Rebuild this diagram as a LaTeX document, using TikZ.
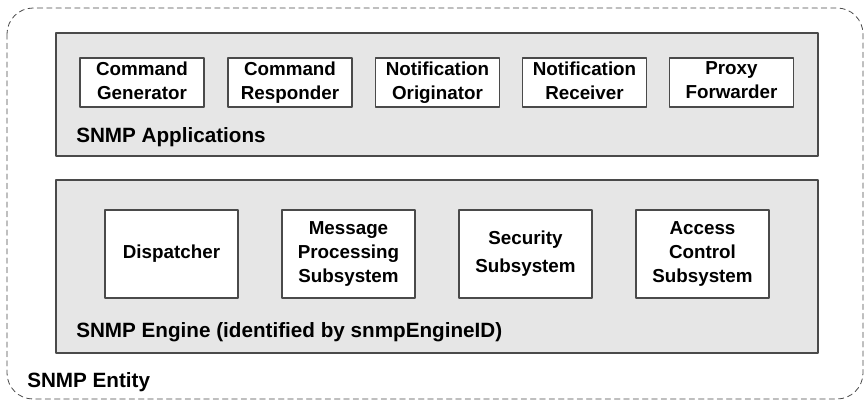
\documentclass[tikz,border=0pt]{standalone}
\usepackage{fontspec}
\setmainfont{Liberation Sans}
\usepackage{xcolor}

\definecolor{panelgray}{HTML}{E6E6E6}
\definecolor{edgegray}{HTML}{4A4A4A}

\tikzset{
  appbox/.style={draw=edgegray, fill=white, line width=0.8pt, inner sep=0pt,
    minimum width=93pt, minimum height=36.75pt, align=center,
    font=\fontsize{14.1}{18}\selectfont\bfseries,
    execute at begin node={\vphantom{Cd}}, execute at end node={\vphantom{g}}},
  enginebox/.style={appbox, minimum width=99.75pt, minimum height=66pt},
  panel/.style={draw=edgegray, fill=panelgray, line width=0.8pt},
  panellabel/.style={anchor=base west, inner sep=0pt,
    font=\fontsize{15.5}{18}\selectfont\bfseries}
}

\begin{document}
\begin{tikzpicture}[x=0.75pt, y=-0.75pt, line cap=round, line join=round]
		
		\useasboundingbox (0,0) rectangle (865,401);
		
		% SNMP entity (dashed outline)
		\draw[edgegray, line width=0.6pt, dash pattern=on 4pt off 3pt, rounded corners=19.5pt]
		(7,8) rectangle (863,399);
		\node[panellabel] (entity) at (27,387) {SNMP Entity};
		
		% Applications panel
		\draw[panel] (56,33) rectangle (818,156);
		\node[panellabel] (apps) at (76,142) {SNMP Applications};
		
		\node[appbox] (cmdgen)  at (142,82.5)   {Command\\Generator};
		\node[appbox] (cmdresp) at (290,82.5)   {Command\\Responder};
		\node[appbox] (notorig) at (437.5,82.5) {Notification\\Originator};
		\node[appbox] (notrecv) at (584.5,82.5) {Notification\\Receiver};
		\node[appbox] (proxy)   at (731.5,82.5) {Proxy\\Forwarder};
		
		% Engine panel
		\draw[panel] (56,180) rectangle (818,353);
		\node[panellabel] (engine) at (76,337) {SNMP Engine (identified by snmpEngineID)};
		
		\node[enginebox] (dispatch) at (171.5,254) {Dispatcher};
		\node[enginebox] (msgproc)  at (348.5,254) {Message\\Processing\\Subsystem};
		\node[enginebox, font=\fontsize{14.1}{21}\selectfont\bfseries] (security) at (525.5,254) {Security\\Subsystem};
		\node[enginebox] (access)   at (702.5,254) {Access\\Control\\Subsystem};
		
	\end{tikzpicture}
\end{document}
